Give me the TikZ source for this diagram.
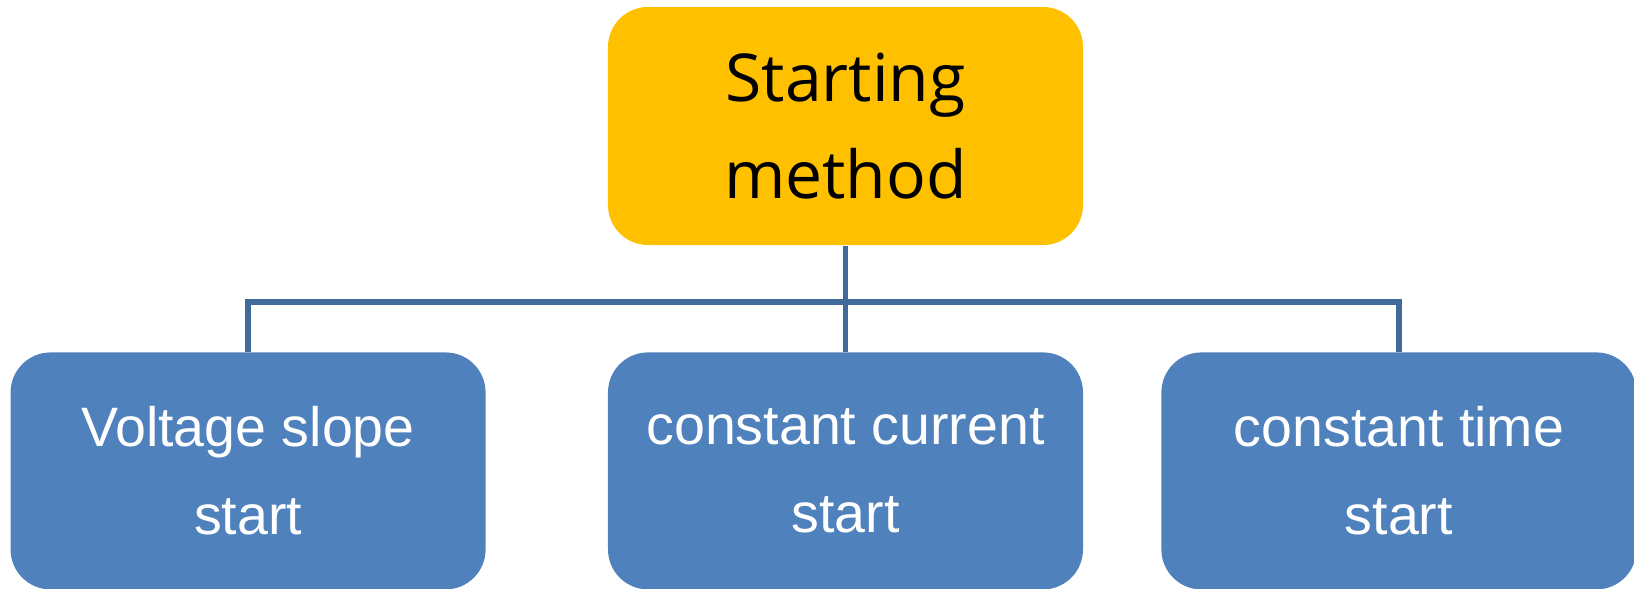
\documentclass[tikz,border=0pt]{standalone}
\usepackage{fontspec}
\setmainfont{Liberation Sans}
\newfontfamily\topfont{Open Sans}
\usepackage{tikz}
\usetikzlibrary{positioning,calc}
\definecolor{boxorange}{HTML}{FFC000}
\definecolor{boxblue}{HTML}{4F81BD}
\definecolor{linkblue}{HTML}{41699A}
\tikzset{
    rootbox/.style={fill=boxorange, rounded corners=0.4cm, minimum width=4.75cm, minimum height=2.38cm, align=center, inner sep=0pt, font={\topfont\fontsize{18.8}{27.5}\selectfont}, text=black},
    leafbox/.style={fill=boxblue, rounded corners=0.4cm, minimum width=4.75cm, minimum height=2.37cm, align=center, inner sep=0pt, font={\fontsize{15.8}{25}\selectfont}, text=white},
    link/.style={draw=linkblue, line width=1.6pt}
}
\begin{document}
\begin{tikzpicture}
                    \useasboundingbox (-8.455,1.26) rectangle (7.885,-4.62);
                    \node[rootbox] (root) {Starting\\method};
                    \node[leafbox, below=1.06cm of root] (current) {constant current\\start};
                    \node[leafbox, left=1.21cm of current] (slope) {Voltage slope\\start};
                    \node[leafbox, right=0.77cm of current] (time) {constant time\\start};
                    \coordinate (hub) at ($(root.south)+(0,-0.56)$);
                    
                    \draw[link] (root) -- (current);
                    \draw[link] (hub) -| (slope.north);
                    \draw[link] (hub) -| (time.north);
                \end{tikzpicture}
\end{document}
